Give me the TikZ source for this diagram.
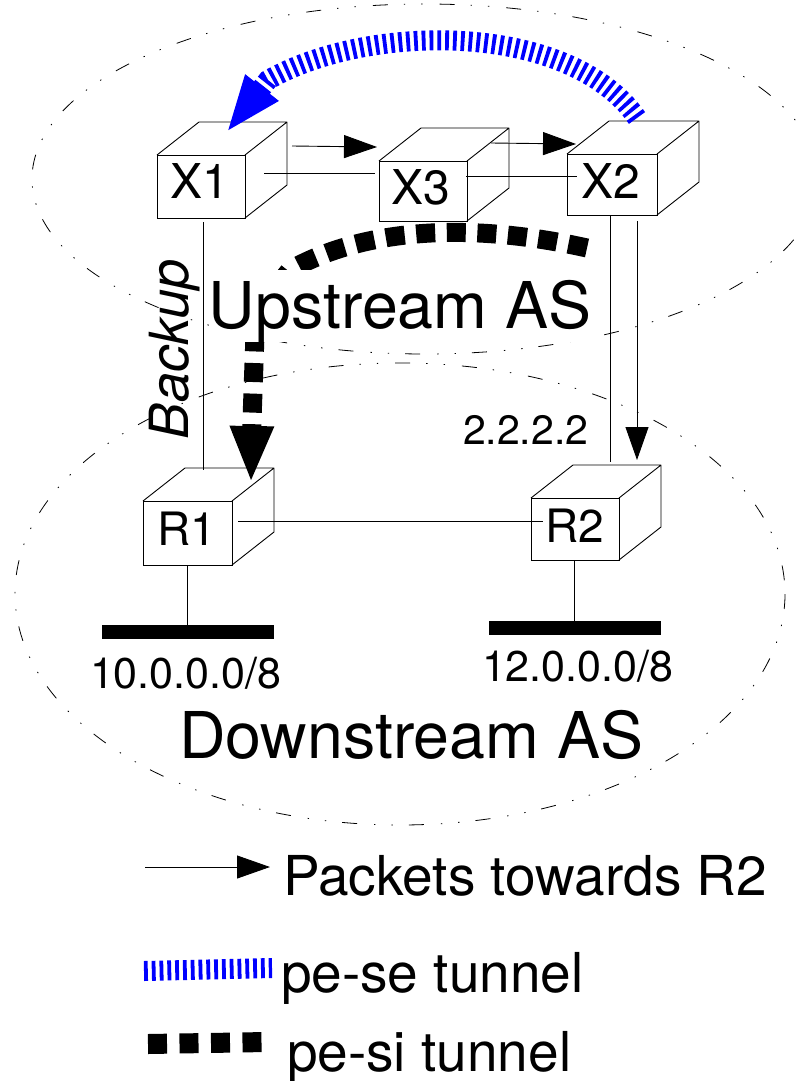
\documentclass[tikz,border=0pt]{standalone}
\usepackage{fontspec}
\setmainfont{TeX Gyre Heros}
\usetikzlibrary{arrows.meta}
\newcommand{\cubebox}[5]{% name, x0, y0, x1, y1 of the front face
  \node[front,minimum width=#4pt-#2pt,minimum height=#5pt-#3pt] (#1) at ({(#2+#4)/2},{(#3+#5)/2}) {};
  \draw[thinline,line join=round] (#1.north west) -- ++(42,-33) -- ++(#4-#2,0) -- ++(0,#5-#3) -- (#1.south east)
        (#1.north east) -- ++(42,-33);
}
\tikzset{
  x=1pt,y=-1pt,
  thinline/.style={line width=0.9pt,black},
  front/.style={draw,thinline,inner sep=0pt,outer sep=0pt},
  txt/.style={anchor=base west,inner sep=0pt,outer sep=0pt,black},
  flow/.style={thinline,-{Triangle[length=33pt,width=23pt]}},
  asborder/.style={line width=0.8pt,black,dash pattern=on 15pt off 16pt on 1.4pt off 16pt on 1.4pt off 17pt},
  sebar/.style={blue,line width=20pt,dash pattern=on 3.8pt off 4pt},
  sibar/.style={black,line width=19pt,dash pattern=on 19pt off 12.5pt},
  bar/.style={fill=black,draw=none,inner sep=0pt,outer sep=0pt},
}
\begin{document}
\begin{tikzpicture}
\useasboundingbox (0,0) rectangle (801,1081);
\clip (0,0) rectangle (801,1081);
% AS borders
\draw[asborder] (425,179) ellipse [x radius=393,y radius=175];
\draw[asborder] (400,594) ellipse [x radius=385,y radius=231];
% routers
\cubebox{X1}{157}{155}{245}{218}
\cubebox{X3}{379}{161}{467}{221}
\cubebox{X2}{567}{154}{657}{215}
\cubebox{R1}{143}{501}{232}{565}
\cubebox{R2}{531}{498}{619}{560}
% router labels
\node[txt,font=\fontsize{48}{48}\selectfont] (tX1) at (170,198) {X1};
\node[txt,font=\fontsize{48}{48}\selectfont] (tX3) at (391,204) {X3};
\node[txt,font=\fontsize{48}{48}\selectfont] (tX2) at (581,198) {X2};
\node[txt,font=\fontsize{46}{46}\selectfont] (tR1) at (157,545) {R1};
\node[txt,font=\fontsize{46}{46}\selectfont] (tR2) at (545,542) {R2};
% free ends
\coordinate (a1) at (292,146);
\coordinate (a2) at (377,147);
\coordinate (b1) at (491,143);
\coordinate (b2) at (576,144);
\coordinate (c1) at (264,173);
\coordinate (c2) at (375,173);
\coordinate (d1) at (466,176);
\coordinate (d2) at (577,176);
\coordinate (e1) at (203,222);
\coordinate (e2) at (203,470);
\coordinate (f1) at (610,215);
\coordinate (f2) at (610,462);
\coordinate (g1) at (637,221);
\coordinate (g2) at (637,460);
\coordinate (h1) at (238,521);
\coordinate (h2) at (543,521);
% links and packet flow
\draw[thinline] (c1) -- (c2);
\draw[thinline] (d1) -- (d2);
\draw[thinline] (e1) -- (e2);
\draw[thinline] (f1) -- (f2);
\draw[thinline] (h1) -- (h2);
\draw[flow] (a1) -- (a2);
\draw[flow] (b1) -- (b2);
\draw[flow] (g1) -- (g2);
% prefixes
\node[bar,minimum width=172pt,minimum height=14pt] (n1) at (188,632) {};
\node[bar,minimum width=172pt,minimum height=14pt] (n2) at (575,628) {};
\draw[thinline] (187,566) -- (n1.north -| 187,0);
\draw[thinline] (574,561) -- (n2.north -| 574,0);
% tunnels
\coordinate (se1) at (637,118);
\coordinate (seE) at (226,133);
\draw[sebar,-{Triangle[length=58pt,width=38pt]}] (se1) .. controls (570,22) and (370,22) .. (268,80) -- (seE);
\coordinate (si1) at (587,248);
\coordinate (siE) at (251,483);
\draw[sibar,dash pattern=on 19pt off 11.6pt,-{Triangle[length=57pt,width=40pt]}] (si1) .. controls (470,222) and (365,228) .. (290,270) -- (270,295) -- (305,318) -- (255,335) -- (252,420) -- (siE);
% texts
\node[fill=white,inner xsep=0pt,inner ysep=0pt,minimum width=380pt,text height=58pt,text depth=14pt,font=\fontsize{64.5}{64.5}\selectfont] (up) at (400,306) {Upstream AS};
\node[txt,font=\fontsize{64.5}{64.5}\selectfont] (down) at (179,758) {Downstream AS};
\node[txt,rotate=90,font=\itshape\fontsize{54}{54}\selectfont] (backup) at (188,439) {Backup};
\node[txt,font=\fontsize{41}{41}\selectfont] (ip) at (463,444) {2.2.2.2};
\node[txt,font=\fontsize{43}{43}\selectfont] (p1) at (90,688) {10.0.0.0/8};
\node[txt,font=\fontsize{43}{43}\selectfont] (p2) at (482,681) {12.0.0.0/8};
% legend
\coordinate (l1a) at (145,867);
\coordinate (l1b) at (270,867);
\draw[flow] (l1a) -- (l1b);
\node[txt,font=\fontsize{55}{55}\selectfont] (l1) at (283,895) {Packets towards R2};
\coordinate (l2a) at (144,971);
\coordinate (l2b) at (272,968);
\draw[sebar] (l2a) -- (l2b);
\node[txt,font=\fontsize{55}{55}\selectfont] (l2) at (281,992) {pe-se tunnel};
\coordinate (l3a) at (148,1044);
\coordinate (l3b) at (267,1042);
\draw[sibar,line width=20pt] (l3a) -- (l3b);
\node[txt,font=\fontsize{55}{55}\selectfont] (l3) at (287,1071) {pe-si tunnel};
\end{tikzpicture}
\end{document}
